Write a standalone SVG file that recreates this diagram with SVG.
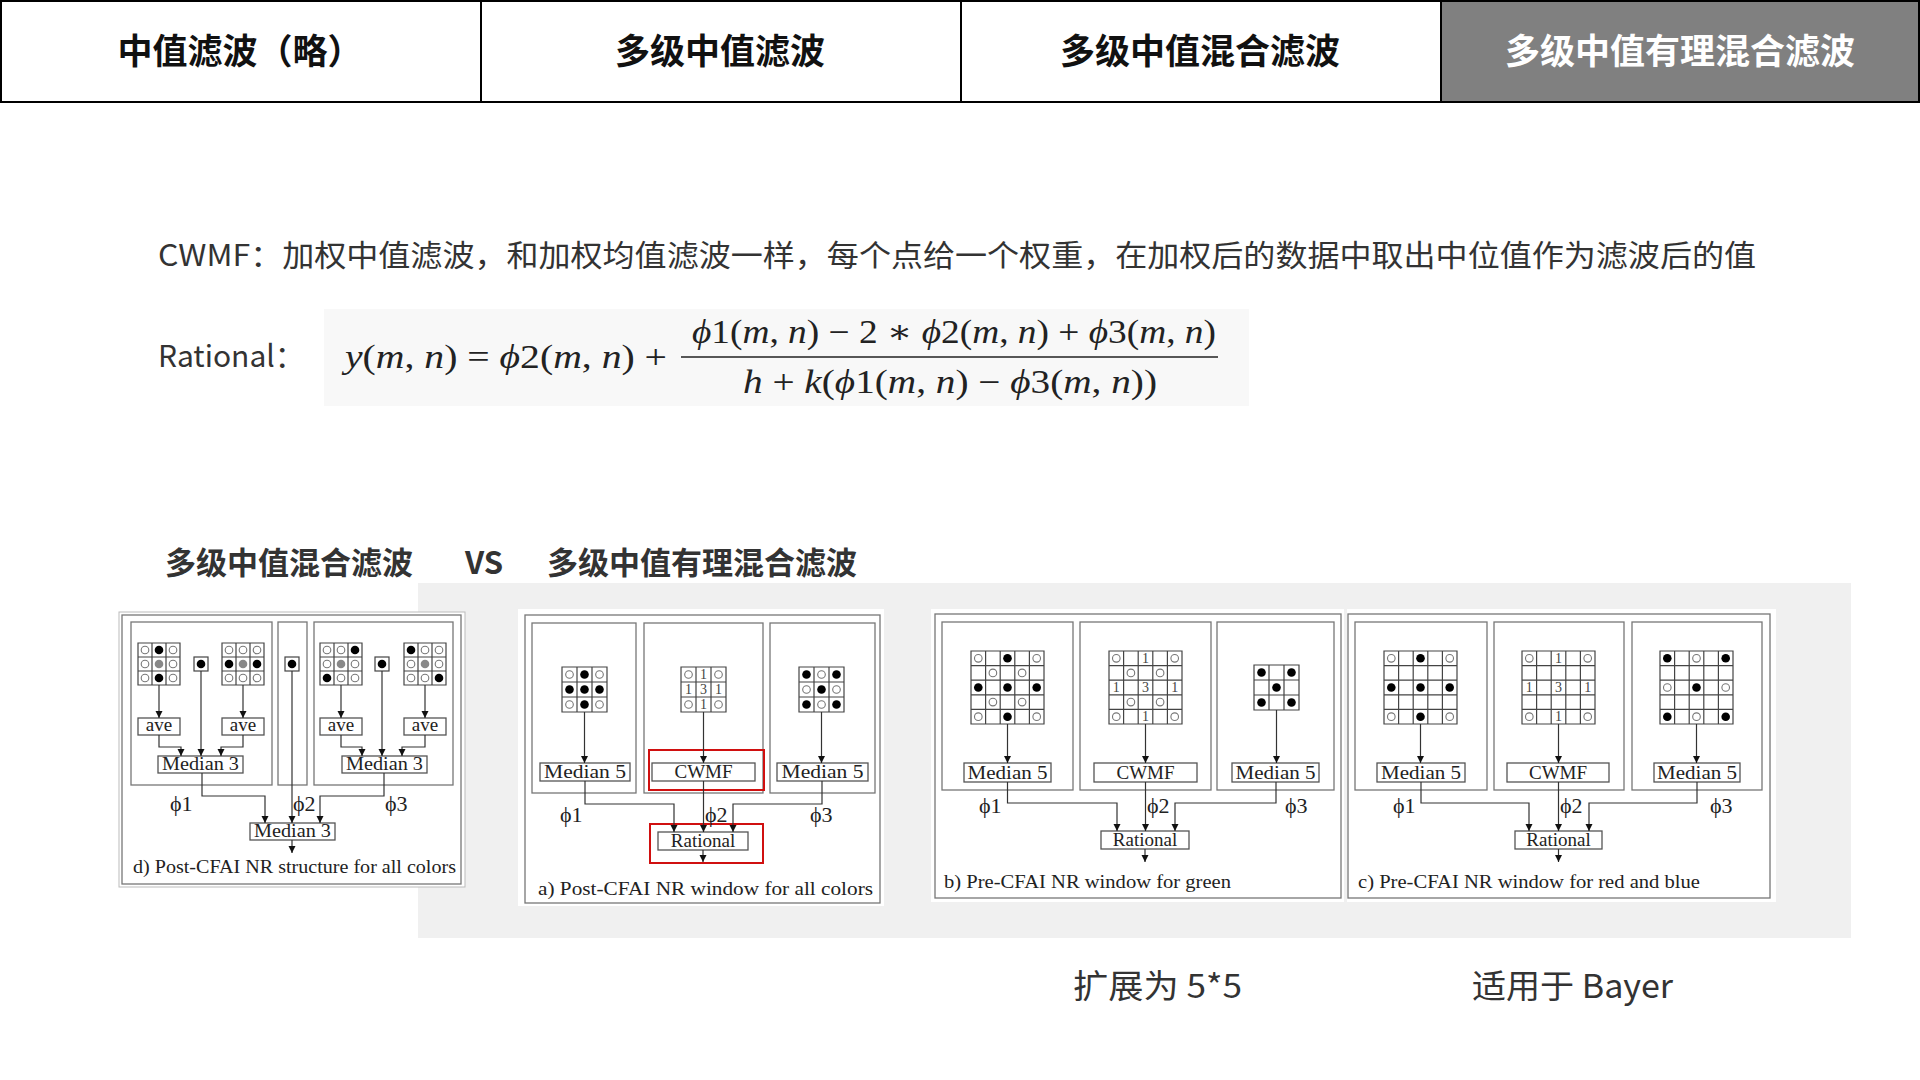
<svg xmlns="http://www.w3.org/2000/svg" xmlns:xlink="http://www.w3.org/1999/xlink" width="1920" height="1080" viewBox="0 0 1920 1080">
<style>
.hd{font-family:"Noto Sans CJK SC","Noto Sans",sans-serif;font-weight:bold;font-size:35px;text-anchor:middle}
.cn{font-family:"Noto Sans CJK SC","Noto Sans",sans-serif;fill:#333}
.sf{font-family:"Liberation Serif","DejaVu Serif",serif;fill:#222}
.bx{fill:#fff;stroke:#555;stroke-width:1.3}
.fr{fill:none;stroke:#777;stroke-width:1.3}
.gr{fill:#fff;stroke:#444;stroke-width:1.2}
.ln{fill:none;stroke:#333;stroke-width:1.2;marker-end:url(#ah)}
.lb{font-family:"Liberation Serif",serif;font-size:19px;text-anchor:middle;fill:#222}
.cap{font-family:"Liberation Serif",serif;font-size:18px;fill:#222}
.ph{font-family:"Liberation Serif",serif;font-size:22px;fill:#222}
.num{font-family:"Liberation Serif",serif;font-size:14px;text-anchor:middle;fill:#444}
.red{fill:none;stroke:#d01010;stroke-width:2}
.it{font-style:italic}
</style>
<defs>
<marker id="ah" viewBox="0 0 10 10" refX="10" refY="5" markerWidth="7" markerHeight="8" markerUnits="userSpaceOnUse" orient="auto"><path d="M0 0L10 5L0 10Z" fill="#111"/></marker>
<path id="g3" d="M0 0H3V3H0Z M1 0V3 M2 0V3 M0 1H3 M0 2H3" fill="#fff" stroke="#444" stroke-width="1.2" vector-effect="non-scaling-stroke"/>
<path id="g5" d="M0 0H5V5H0Z M1 0V5 M2 0V5 M3 0V5 M4 0V5 M0 1H5 M0 2H5 M0 3H5 M0 4H5" fill="#fff" stroke="#444" stroke-width="1.2" vector-effect="non-scaling-stroke"/>
<circle id="o" r="3.8" fill="#fff" stroke="#777" stroke-width="1.1"/>
<circle id="b" r="4.3" fill="#000"/>
<circle id="g" r="4.3" fill="#888"/>
</defs>
<rect width="1920" height="1080" fill="#fff"/>

<g id="header">
<rect x="1" y="1" width="480" height="101" fill="#fff" stroke="#000" stroke-width="2"/>
<rect x="481" y="1" width="480" height="101" fill="#fff" stroke="#000" stroke-width="2"/>
<rect x="961" y="1" width="480" height="101" fill="#fff" stroke="#000" stroke-width="2"/>
<rect x="1441" y="1" width="478" height="101" fill="#808080" stroke="#000" stroke-width="2"/>
<text class="hd" x="240" y="64" fill="#111">中值滤波（略）</text>
<text class="hd" x="720" y="64" fill="#111">多级中值滤波</text>
<text class="hd" x="1200" y="64" fill="#111">多级中值混合滤波</text>
<text class="hd" x="1680" y="64" fill="#fff" font-weight="normal">多级中值有理混合滤波</text>
</g>

<text class="cn" x="158" y="266" font-size="30" textLength="1598" lengthAdjust="spacingAndGlyphs">CWMF：加权中值滤波，和加权均值滤波一样，每个点给一个权重，在加权后的数据中取出中位值作为滤波后的值</text>
<text class="cn" x="158" y="367" font-size="30">Rational：</text>
<g id="formula">
<rect x="324" y="309" width="925" height="97" fill="#f8f8f8"/>
<text class="sf" x="345" y="368" font-size="33" textLength="322" lengthAdjust="spacingAndGlyphs"><tspan class="it">y</tspan>(<tspan class="it">m</tspan>, <tspan class="it">n</tspan>) = <tspan class="it">ϕ</tspan>2(<tspan class="it">m</tspan>, <tspan class="it">n</tspan>) +</text>
<text class="sf" x="692" y="343" font-size="33" textLength="524" lengthAdjust="spacingAndGlyphs"><tspan class="it">ϕ</tspan>1(<tspan class="it">m</tspan>, <tspan class="it">n</tspan>) − 2 ∗ <tspan class="it">ϕ</tspan>2(<tspan class="it">m</tspan>, <tspan class="it">n</tspan>) + <tspan class="it">ϕ</tspan>3(<tspan class="it">m</tspan>, <tspan class="it">n</tspan>)</text>
<line x1="681" y1="357" x2="1218" y2="357" stroke="#222" stroke-width="1.6"/>
<text class="sf" x="743" y="393" font-size="33" textLength="414" lengthAdjust="spacingAndGlyphs"><tspan class="it">h</tspan> + <tspan class="it">k</tspan>(<tspan class="it">ϕ</tspan>1(<tspan class="it">m</tspan>, <tspan class="it">n</tspan>) − <tspan class="it">ϕ</tspan>3(<tspan class="it">m</tspan>, <tspan class="it">n</tspan>))</text>
</g>

<text class="cn" x="165" y="574" font-size="31" font-weight="bold">多级中值混合滤波</text>
<text class="cn" x="465" y="574" font-size="31" font-weight="bold">VS</text>
<text class="cn" x="547" y="574" font-size="31" font-weight="bold">多级中值有理混合滤波</text>

<rect x="418" y="583" width="1433" height="355" fill="#f0f0f0"/>

<!-- figure d -->
<g id="fig-d">
<rect x="119" y="612" width="346" height="275" fill="#fff" stroke="#bbb"/>
<rect x="122" y="615" width="339" height="269" class="fr"/>
<rect x="131" y="622" width="141" height="163" class="fr"/>
<rect x="278" y="622" width="29" height="163" class="fr"/>
<rect x="314" y="622" width="139" height="163" class="fr"/>
<use href="#g3" transform="translate(138,643) scale(14)"/>
<use href="#g3" transform="translate(222,643) scale(14)"/>
<use href="#g3" transform="translate(320,643) scale(14)"/>
<use href="#g3" transform="translate(404,643) scale(14)"/>
<use href="#o" x="145" y="650"/><use href="#b" x="159" y="650"/><use href="#o" x="173" y="650"/>
<use href="#o" x="145" y="664"/><use href="#g" x="159" y="664"/><use href="#o" x="173" y="664"/>
<use href="#o" x="145" y="678"/><use href="#b" x="159" y="678"/><use href="#o" x="173" y="678"/>
<use href="#o" x="229" y="650"/><use href="#o" x="243" y="650"/><use href="#o" x="257" y="650"/>
<use href="#b" x="229" y="664"/><use href="#g" x="243" y="664"/><use href="#b" x="257" y="664"/>
<use href="#o" x="229" y="678"/><use href="#o" x="243" y="678"/><use href="#o" x="257" y="678"/>
<use href="#o" x="327" y="650"/><use href="#o" x="341" y="650"/><use href="#b" x="355" y="650"/>
<use href="#o" x="327" y="664"/><use href="#g" x="341" y="664"/><use href="#o" x="355" y="664"/>
<use href="#b" x="327" y="678"/><use href="#o" x="341" y="678"/><use href="#o" x="355" y="678"/>
<use href="#b" x="411" y="650"/><use href="#o" x="425" y="650"/><use href="#o" x="439" y="650"/>
<use href="#o" x="411" y="664"/><use href="#g" x="425" y="664"/><use href="#o" x="439" y="664"/>
<use href="#o" x="411" y="678"/><use href="#o" x="425" y="678"/><use href="#b" x="439" y="678"/>
<rect x="194" y="657" width="14" height="14" class="gr"/><use href="#b" x="201" y="664"/>
<rect x="285" y="657" width="14" height="14" class="gr"/><use href="#b" x="292" y="664"/>
<rect x="375" y="657" width="14" height="14" class="gr"/><use href="#b" x="382" y="664"/>
<rect x="138" y="718" width="42" height="17" class="bx"/><text class="lb" x="159" y="731">ave</text>
<rect x="222" y="718" width="42" height="17" class="bx"/><text class="lb" x="243" y="731">ave</text>
<rect x="320" y="718" width="42" height="17" class="bx"/><text class="lb" x="341" y="731">ave</text>
<rect x="404" y="718" width="42" height="17" class="bx"/><text class="lb" x="425" y="731">ave</text>
<rect x="158" y="756" width="85" height="17" class="bx"/><text class="lb" x="200.5" y="770" textLength="77" lengthAdjust="spacingAndGlyphs">Median 3</text>
<rect x="342" y="756" width="85" height="17" class="bx"/><text class="lb" x="384.5" y="770" textLength="77" lengthAdjust="spacingAndGlyphs">Median 3</text>
<rect x="250" y="823" width="85" height="17" class="bx"/><text class="lb" x="292.5" y="837" textLength="77" lengthAdjust="spacingAndGlyphs">Median 3</text>
<text class="ph" x="170" y="811">ϕ1</text><text class="ph" x="293" y="811">ϕ2</text><text class="ph" x="385" y="811">ϕ3</text>
<text class="cap" x="133" y="873" textLength="323" lengthAdjust="spacingAndGlyphs">d) Post-CFAI NR structure for all colors</text>
</g>

<!-- figure a -->
<g id="fig-a">
<rect x="518" y="609" width="366" height="297" fill="#fff"/>
<rect x="525" y="615" width="355" height="288" class="fr"/>
<rect x="532" y="623" width="104" height="170" class="fr"/>
<rect x="644" y="623" width="119" height="170" class="fr"/>
<rect x="770" y="623" width="105" height="170" class="fr"/>
<use href="#g3" transform="translate(562,667) scale(15)"/>
<use href="#g3" transform="translate(681,667) scale(15)"/>
<use href="#g3" transform="translate(799,667) scale(15)"/>
<use href="#o" x="569.5" y="674.5"/><use href="#b" x="584.5" y="674.5"/><use href="#o" x="599.5" y="674.5"/>
<use href="#b" x="569.5" y="689.5"/><use href="#b" x="584.5" y="689.5"/><use href="#b" x="599.5" y="689.5"/>
<use href="#o" x="569.5" y="704.5"/><use href="#b" x="584.5" y="704.5"/><use href="#o" x="599.5" y="704.5"/>
<use href="#o" x="688.5" y="674.5"/><text class="num" x="703.5" y="679">1</text><use href="#o" x="718.5" y="674.5"/>
<text class="num" x="688.5" y="694">1</text><text class="num" x="703.5" y="694">3</text><text class="num" x="718.5" y="694">1</text>
<use href="#o" x="688.5" y="704.5"/><text class="num" x="703.5" y="709">1</text><use href="#o" x="718.5" y="704.5"/>
<use href="#b" x="806.5" y="674.5"/><use href="#o" x="821.5" y="674.5"/><use href="#b" x="836.5" y="674.5"/>
<use href="#o" x="806.5" y="689.5"/><use href="#b" x="821.5" y="689.5"/><use href="#o" x="836.5" y="689.5"/>
<use href="#b" x="806.5" y="704.5"/><use href="#o" x="821.5" y="704.5"/><use href="#b" x="836.5" y="704.5"/>
<rect x="540" y="763" width="90" height="18" class="bx"/><text class="lb" x="585" y="778" textLength="82" lengthAdjust="spacingAndGlyphs">Median 5</text>
<rect x="652" y="763" width="103" height="18" class="bx"/><text class="lb" x="703.5" y="778">CWMF</text>
<rect x="777" y="763" width="91" height="18" class="bx"/><text class="lb" x="822.5" y="778" textLength="82" lengthAdjust="spacingAndGlyphs">Median 5</text>
<rect x="649" y="750" width="115" height="40" class="red"/>
<rect x="658" y="832" width="90" height="18" class="bx"/><text class="lb" x="703" y="847">Rational</text>
<rect x="650" y="824" width="113" height="39" class="red"/>
<text class="ph" x="560" y="822">ϕ1</text><text class="ph" x="705" y="822">ϕ2</text><text class="ph" x="810" y="822">ϕ3</text>
<text class="cap" x="538" y="895" textLength="335" lengthAdjust="spacingAndGlyphs">a) Post-CFAI NR window for all colors</text>
</g>

<!-- figure b -->
<g id="fig-b">
<rect x="931" y="609" width="413" height="293" fill="#fff"/>
<rect x="935" y="614" width="406" height="284" class="fr"/>
<rect x="942" y="622" width="131" height="168" class="fr"/>
<rect x="1080" y="622" width="131" height="168" class="fr"/>
<rect x="1217" y="622" width="117" height="168" class="fr"/>
<use href="#g5" transform="translate(971,651) scale(14.6)"/>
<use href="#g5" transform="translate(1109,651) scale(14.6)"/>
<use href="#g3" transform="translate(1254,665) scale(15)"/>
<use href="#o" x="978.3" y="658.3"/><use href="#b" x="1007.5" y="658.3"/><use href="#o" x="1036.7" y="658.3"/>
<use href="#o" x="992.9" y="672.9"/><use href="#o" x="1022.1" y="672.9"/>
<use href="#b" x="978.3" y="687.5"/><use href="#b" x="1007.5" y="687.5"/><use href="#b" x="1036.7" y="687.5"/>
<use href="#o" x="992.9" y="702.1"/><use href="#o" x="1022.1" y="702.1"/>
<use href="#o" x="978.3" y="716.7"/><use href="#b" x="1007.5" y="716.7"/><use href="#o" x="1036.7" y="716.7"/>
<use href="#o" x="1116.3" y="658.3"/><text class="num" x="1145.5" y="663">1</text><use href="#o" x="1174.7" y="658.3"/>
<use href="#o" x="1130.9" y="672.9"/><use href="#o" x="1160.1" y="672.9"/>
<text class="num" x="1116.3" y="692">1</text><text class="num" x="1145.5" y="692">3</text><text class="num" x="1174.7" y="692">1</text>
<use href="#o" x="1130.9" y="702.1"/><use href="#o" x="1160.1" y="702.1"/>
<use href="#o" x="1116.3" y="716.7"/><text class="num" x="1145.5" y="721">1</text><use href="#o" x="1174.7" y="716.7"/>
<use href="#b" x="1261.5" y="672.5"/><use href="#b" x="1291.5" y="672.5"/>
<use href="#b" x="1276.5" y="687.5"/>
<use href="#b" x="1261.5" y="702.5"/><use href="#b" x="1291.5" y="702.5"/>
<rect x="964" y="763" width="87" height="19" class="bx"/><text class="lb" x="1007.5" y="779" textLength="80" lengthAdjust="spacingAndGlyphs">Median 5</text>
<rect x="1094" y="763" width="103" height="19" class="bx"/><text class="lb" x="1145.5" y="779">CWMF</text>
<rect x="1232" y="763" width="87" height="19" class="bx"/><text class="lb" x="1275.5" y="779" textLength="80" lengthAdjust="spacingAndGlyphs">Median 5</text>
<rect x="1101" y="831" width="88" height="18" class="bx"/><text class="lb" x="1145" y="846">Rational</text>
<text class="ph" x="979" y="813">ϕ1</text><text class="ph" x="1147" y="813">ϕ2</text><text class="ph" x="1285" y="813">ϕ3</text>
<text class="cap" x="944" y="888" textLength="287" lengthAdjust="spacingAndGlyphs">b) Pre-CFAI NR window for green</text>
</g>

<!-- figure c -->
<g id="fig-c">
<rect x="1347" y="609" width="429" height="293" fill="#fff"/>
<rect x="1348" y="614" width="422" height="284" class="fr"/>
<rect x="1355" y="622" width="132" height="168" class="fr"/>
<rect x="1494" y="622" width="130" height="168" class="fr"/>
<rect x="1632" y="622" width="130" height="168" class="fr"/>
<use href="#g5" transform="translate(1384,651) scale(14.6)"/>
<use href="#g5" transform="translate(1522,651) scale(14.6)"/>
<use href="#g5" transform="translate(1660,651) scale(14.6)"/>
<use href="#o" x="1391.3" y="658.3"/><use href="#b" x="1420.5" y="658.3"/><use href="#o" x="1449.7" y="658.3"/>
<use href="#b" x="1391.3" y="687.5"/><use href="#b" x="1420.5" y="687.5"/><use href="#b" x="1449.7" y="687.5"/>
<use href="#o" x="1391.3" y="716.7"/><use href="#b" x="1420.5" y="716.7"/><use href="#o" x="1449.7" y="716.7"/>
<use href="#o" x="1529.3" y="658.3"/><text class="num" x="1558.5" y="663">1</text><use href="#o" x="1587.7" y="658.3"/>
<text class="num" x="1529.3" y="692">1</text><text class="num" x="1558.5" y="692">3</text><text class="num" x="1587.7" y="692">1</text>
<use href="#o" x="1529.3" y="716.7"/><text class="num" x="1558.5" y="721">1</text><use href="#o" x="1587.7" y="716.7"/>
<use href="#b" x="1667.3" y="658.3"/><use href="#o" x="1696.5" y="658.3"/><use href="#b" x="1725.7" y="658.3"/>
<use href="#o" x="1667.3" y="687.5"/><use href="#b" x="1696.5" y="687.5"/><use href="#o" x="1725.7" y="687.5"/>
<use href="#b" x="1667.3" y="716.7"/><use href="#o" x="1696.5" y="716.7"/><use href="#b" x="1725.7" y="716.7"/>
<rect x="1377" y="763" width="88" height="19" class="bx"/><text class="lb" x="1421" y="779" textLength="80" lengthAdjust="spacingAndGlyphs">Median 5</text>
<rect x="1507" y="763" width="102" height="19" class="bx"/><text class="lb" x="1558" y="779">CWMF</text>
<rect x="1654" y="763" width="86" height="19" class="bx"/><text class="lb" x="1697" y="779" textLength="80" lengthAdjust="spacingAndGlyphs">Median 5</text>
<rect x="1515" y="831" width="87" height="18" class="bx"/><text class="lb" x="1558.5" y="846">Rational</text>
<text class="ph" x="1393" y="813">ϕ1</text><text class="ph" x="1560" y="813">ϕ2</text><text class="ph" x="1710" y="813">ϕ3</text>
<text class="cap" x="1358" y="888" textLength="342" lengthAdjust="spacingAndGlyphs">c) Pre-CFAI NR window for red and blue</text>
</g>

<g id="connectors">
<path class="ln" d="M159 685V718"/><path class="ln" d="M243 685V718"/><path class="ln" d="M341 685V718"/><path class="ln" d="M425 685V718"/>
<path class="ln" d="M159 735V747H181V756"/><path class="ln" d="M201 671V756"/><path class="ln" d="M243 735V747H221V756"/>
<path class="ln" d="M341 735V747H362V756"/><path class="ln" d="M382 671V756"/><path class="ln" d="M425 735V747H402V756"/>
<path class="ln" d="M202 773V796H265V823"/><path class="ln" d="M292 671V823"/><path class="ln" d="M384 773V796H320V823"/>
<path class="ln" d="M292 840V853"/>
<path class="ln" d="M584.5 712V763"/><path class="ln" d="M703.5 712V763"/><path class="ln" d="M821.5 712V763"/>
<path class="ln" d="M585 781V804H674V832"/><path class="ln" d="M703.5 781V832"/><path class="ln" d="M822 781V804H733V832"/>
<path class="ln" d="M703 850V862"/>
<path class="ln" d="M1007.5 724V763"/><path class="ln" d="M1145.5 724V763"/><path class="ln" d="M1276.5 710V763"/>
<path class="ln" d="M1007.5 782V803H1117V831"/><path class="ln" d="M1145.5 782V831"/><path class="ln" d="M1276 782V803H1175V831"/>
<path class="ln" d="M1145 849V862"/>
<path class="ln" d="M1420.5 724V763"/><path class="ln" d="M1558.5 724V763"/><path class="ln" d="M1696.5 724V763"/>
<path class="ln" d="M1421 782V803H1529V831"/><path class="ln" d="M1558.5 782V831"/><path class="ln" d="M1697 782V803H1589V831"/>
<path class="ln" d="M1558.5 849V862"/>
</g>

<text class="cn" x="1073" y="998" font-size="33" textLength="169" lengthAdjust="spacingAndGlyphs">扩展为 5*5</text>
<text class="cn" x="1472" y="998" font-size="33" textLength="201" lengthAdjust="spacingAndGlyphs">适用于 Bayer</text>
</svg>
